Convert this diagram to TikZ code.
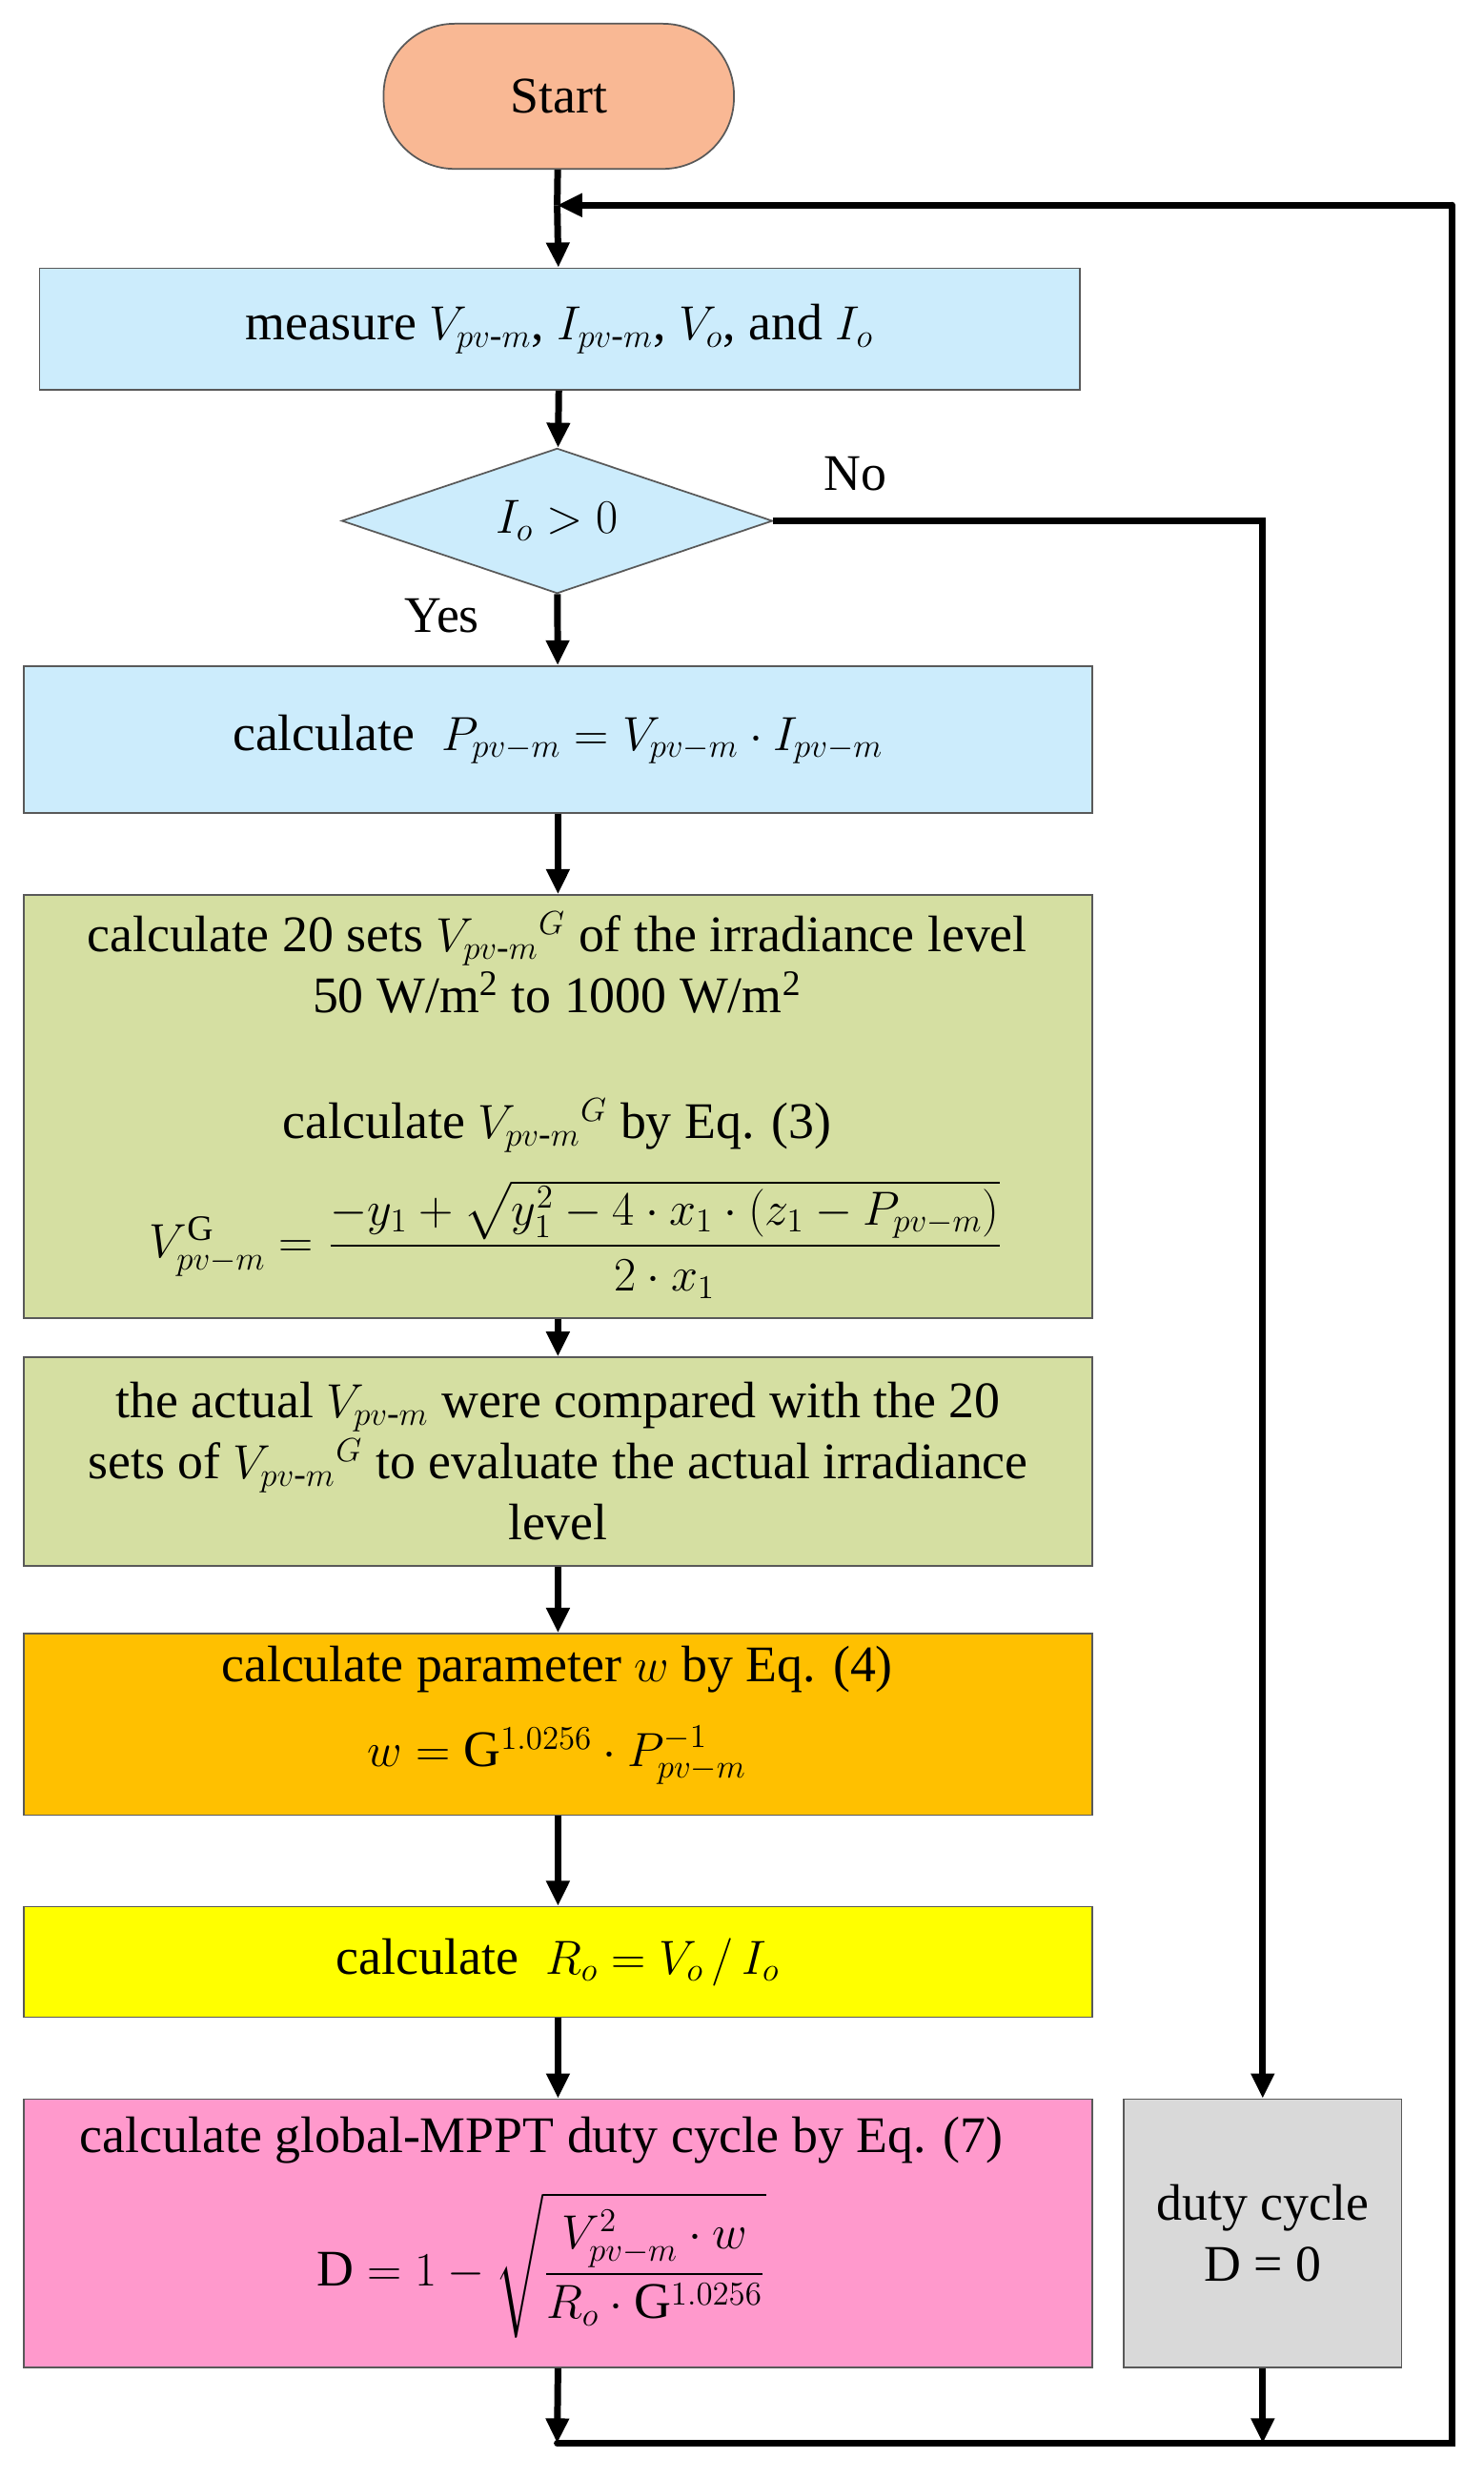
\documentclass[tikz,border=0pt]{standalone}
\usepackage{amsmath}
\usepackage{fontspec}
\setmainfont{Liberation Serif}
\usetikzlibrary{shapes.geometric,arrows.meta}
\begin{document}
\begin{tikzpicture}[x=0.02cm,y=-0.02cm,
  box/.style={draw=gray!70!black,line width=0.6pt,inner sep=0pt,align=center,font=\fontsize{18.5}{22}\selectfont},
  ln/.style={line width=2.4pt},
  ar/.style={ln,-{Triangle[length=9pt,width=8pt]}},
  lab/.style={font=\fontsize{18.5}{22}\selectfont}]
\useasboundingbox (0,0) rectangle (940,1570);
\node[box,rounded corners=0.9cm,fill={rgb,255:red,249;green,184;blue,148},minimum width=4.44cm,minimum height=1.84cm] (start) at (354,61) {Start};
\node[box,fill={rgb,255:red,204;green,236;blue,252},minimum width=13.18cm,minimum height=1.54cm] (meas) at (354.5,208.5) {measure $V_{pv\text{-}m}$, $I_{pv\text{-}m}$, $V_o$, and $I_o$};
\node[box,diamond,aspect=3,fill={rgb,255:red,204;green,236;blue,252},minimum width=5.46cm,minimum height=1.84cm] (dec) at (353,330) {};
\node[lab] at (353,330) {$I_o>0$};
\node[box,fill={rgb,255:red,204;green,236;blue,252},minimum width=13.54cm,minimum height=1.86cm] (pp) at (353.5,468.5) {calculate\; $P_{pv-m}=V_{pv-m}\cdot I_{pv-m}$};
\node[box,fill={rgb,255:red,213;green,223;blue,162},minimum width=13.54cm,minimum height=5.36cm] (g1) at (353.5,701) {};
\node[lab,align=center] at (353,610) {calculate 20 sets $V_{pv\text{-}m}{}^{G}$ of the irradiance level\\ 50 W/m\textsuperscript{2} to 1000 W/m\textsuperscript{2}};
\node[lab] at (353,713) {calculate $V_{pv\text{-}m}{}^{G}$ by Eq. (3)};
\node[lab] at (365,785) {$V^{\mathrm{G}}_{pv-m}=\dfrac{-y_1+\sqrt{y_1^2-4\cdot x_1\cdot\left(z_1-P_{pv-m}\right)}}{2\cdot x_1}$};
\node[box,fill={rgb,255:red,213;green,223;blue,162},minimum width=13.54cm,minimum height=2.64cm] (g2) at (353.5,926) {the actual $V_{pv\text{-}m}$ were compared with the 20\\ sets of $V_{pv\text{-}m}{}^{G}$ to evaluate the actual irradiance\\ level};
\node[box,fill={rgb,255:red,255;green,192;blue,0},minimum width=13.54cm,minimum height=2.3cm] (or) at (353.5,1092.5) {};
\node[lab] at (353,1058) {calculate parameter $w$ by Eq. (4)};
\node[lab] at (353,1112) {$w=\mathrm{G}^{1.0256}\cdot P^{-1}_{pv-m}$};
\node[box,fill={rgb,255:red,255;green,255;blue,0},minimum width=13.54cm,minimum height=1.4cm] (ye) at (353.5,1243) {calculate\; $R_o=V_o\,/\,I_o$};
\node[box,fill={rgb,255:red,255;green,153;blue,204},minimum width=13.54cm,minimum height=3.4cm] (pk) at (353.5,1415) {};
\node[lab] at (343,1356) {calculate global-MPPT duty cycle by Eq. (7)};
\node[lab] at (343,1435) {$\mathrm{D}=1-\sqrt{\dfrac{V^2_{pv-m}\cdot w}{R_o\cdot\mathrm{G}^{1.0256}}}$};
\node[box,fill={rgb,255:red,217;green,217;blue,217},minimum width=3.52cm,minimum height=3.4cm] (gr) at (800,1415) {duty cycle\\ D = 0};
\node[lab] at (542,300) {No};
\node[lab] at (280,390) {Yes};
\coordinate (top) at (353,130);
\coordinate (tr) at (920,130);
\coordinate (br) at (920,1548);
\coordinate (bl) at (353,1548);
\coordinate (bm) at (800,1548);
\coordinate (nr) at (800,330);
\draw[ln] (start) -- (top);
\draw[ar] (top) -- (meas);
\draw[ar] (tr) -- (top);
\draw[ar] (meas) -- (dec);
\draw[ar] (dec) -- (pp);
\draw[ar] (pp) -- (g1);
\draw[ar] (g1) -- (g2);
\draw[ar] (g2) -- (or);
\draw[ar] (or) -- (ye);
\draw[ar] (ye) -- (pk);
\draw[ar] (dec.east) -- (nr) -- (gr.north);
\draw[ar] (pk.south) -- (bl);
\draw[ar] (gr.south) -- (bm);
\draw[ln,line cap=round] (bl) -- (br) -- (tr);
\end{tikzpicture}
\end{document}
